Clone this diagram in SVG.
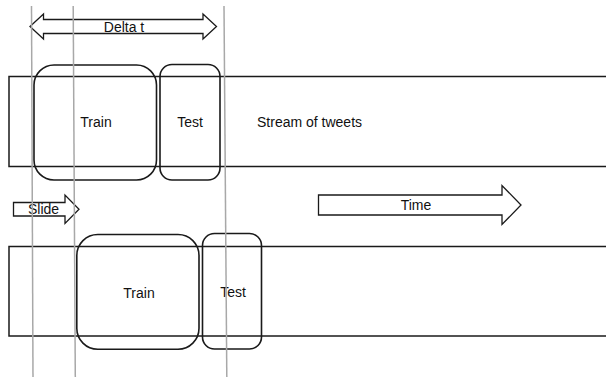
<svg xmlns="http://www.w3.org/2000/svg" width="606" height="377" viewBox="0 0 606 377">
<style>
.band{fill:none;stroke:#1a1a1a;stroke-width:1.5}
.box{fill:none;stroke:#1a1a1a;stroke-width:1.6}
.arr{fill:#fff;stroke:#1a1a1a;stroke-width:1.3;stroke-linejoin:miter}
.guide{stroke:#a8a8a8;stroke-width:1.5}
text{font-family:"Liberation Sans",Arial,sans-serif;font-size:14px;fill:#111}
.c{text-anchor:middle}
</style>
<rect width="606" height="377" fill="#fff"/>
<g id="band-top"><rect class="band" x="9" y="76.5" width="605" height="90"/>
<text x="257" y="126.5">Stream of tweets</text></g>
<g id="band-bottom"><rect class="band" x="9" y="246.5" width="605" height="89.5"/></g>
<g id="delta-t"><polygon class="arr" points="30,26.5 43.5,14 43.5,19.5 203,19.5 203,14 216.5,26.5 203,39 203,33.5 43.5,33.5 43.5,39"/>
<text class="c" x="124" y="31.5">Delta t</text></g>
<g id="slide"><polygon class="arr" points="13.5,202.5 65,202.5 65,195 79,209.3 65,223.5 65,216 13.5,216"/>
<text x="28" y="213.5">Slide</text></g>
<g id="time"><polygon class="arr" points="318.5,195 502,195 502,185.5 521,205 502,224.5 502,215 318.5,215"/>
<text class="c" x="416" y="210">Time</text></g>
<g id="train-1"><rect class="box" x="34" y="65" width="122.5" height="115" rx="20"/>
<text class="c" x="96" y="126.5">Train</text></g>
<g id="test-1"><rect class="box" x="160" y="64.5" width="60" height="115.5" rx="12"/>
<text class="c" x="190" y="126.5">Test</text></g>
<g id="train-2"><rect class="box" x="76.8" y="234.5" width="122.2" height="114.8" rx="21"/>
<text class="c" x="139" y="297.5">Train</text></g>
<g id="test-2"><rect class="box" x="202.5" y="233.5" width="59" height="115.5" rx="12"/>
<text class="c" x="233" y="297">Test</text></g>
<g id="connectors">
<line class="guide" x1="31.5" y1="6" x2="33" y2="377"/>
<line class="guide" x1="73.2" y1="6" x2="75.3" y2="377"/>
<line class="guide" x1="224" y1="6" x2="226.8" y2="377"/>
</g>
</svg>
